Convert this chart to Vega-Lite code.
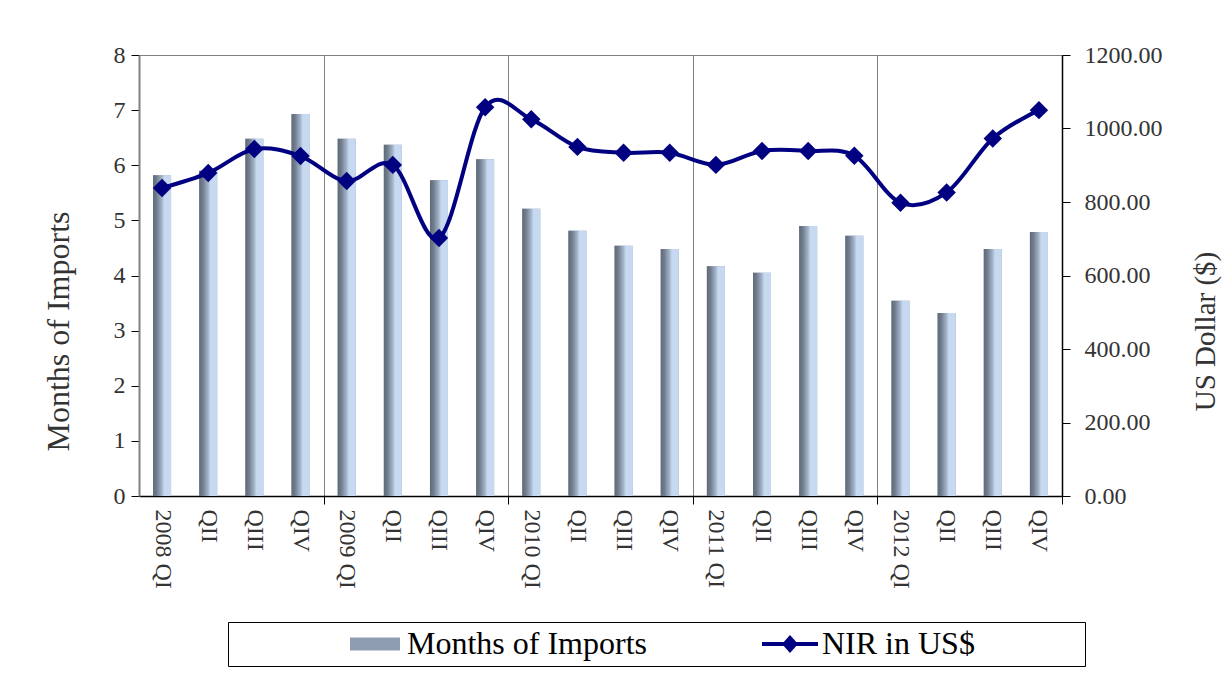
{
  "$schema": "https://vega.github.io/schema/vega-lite/v6.json",
  "autosize": {"type": "none"},
  "width": 923,
  "height": 441,
  "padding": {"left": 139, "top": 55, "right": 165, "bottom": 201},
  "background": "white",
  "config": {
    "font": "Liberation Serif",
    "view": {"stroke": "#808080", "strokeWidth": 1},
    "axis": {"labelFont": "Liberation Serif", "titleFont": "Liberation Serif", "titleFontWeight": "normal", "labelColor": "#333333", "titleColor": "#333333"},
    "legend": {"labelFont": "Liberation Serif", "titleFont": "Liberation Serif"}
  },
  "data": {
    "values": [
      {"q": "2008 QI", "months": 5.82, "nir": 838},
      {"q": "2008 QII", "months": 5.9, "nir": 879},
      {"q": "2008 QIII", "months": 6.48, "nir": 944},
      {"q": "2008 QIV", "months": 6.93, "nir": 925},
      {"q": "2009 QI", "months": 6.48, "nir": 857},
      {"q": "2009 QII", "months": 6.37, "nir": 901},
      {"q": "2009 QIII", "months": 5.73, "nir": 702},
      {"q": "2009 QIV", "months": 6.11, "nir": 1058},
      {"q": "2010 QI", "months": 5.21, "nir": 1025},
      {"q": "2010 QII", "months": 4.81, "nir": 950},
      {"q": "2010 QIII", "months": 4.54, "nir": 934},
      {"q": "2010 QIV", "months": 4.48, "nir": 934},
      {"q": "2011 QI", "months": 4.17, "nir": 901},
      {"q": "2011 QII", "months": 4.05, "nir": 939},
      {"q": "2011 QIII", "months": 4.9, "nir": 939},
      {"q": "2011 QIV", "months": 4.72, "nir": 926},
      {"q": "2012 QI", "months": 3.54, "nir": 798},
      {"q": "2012 QII", "months": 3.32, "nir": 826},
      {"q": "2012 QIII", "months": 4.48, "nir": 973},
      {"q": "2012 QIV", "months": 4.79, "nir": 1050}
    ]
  },
  "encoding": {
    "x": {
      "field": "q",
      "type": "nominal",
      "sort": null,
      "scale": {"paddingInner": 0, "paddingOuter": 0},
      "axis": {
        "title": null,
        "labelAngle": 90,
        "labelAlign": "left",
        "labelBaseline": "middle",
        "labelFontSize": 24,
        "labelPadding": 5,
        "labelExpr": "length(datum.label) == 7 ? datum.label : slice(datum.label, 5)",
        "tickBand": "extent",
        "tickSize": 8,
        "tickColor": "black",
        "tickOpacity": {"condition": {"test": "slice('' + datum.value, 5) == 'QIV'", "value": 1}, "value": 0},
        "grid": true,
        "gridColor": "#808080",
        "gridWidth": 1,
        "gridOpacity": {"condition": {"test": "slice('' + datum.value, 5) == 'QIV'", "value": 1}, "value": 0},
        "domainColor": "black",
        "domainWidth": 1.5
      }
    }
  },
  "layer": [
    {
      "encoding": {
        "y": {
          "field": "months",
          "type": "quantitative",
          "scale": {"domain": [0, 8], "nice": false},
          "axis": {
            "title": "Months of Imports",
            "titleFontSize": 32,
            "titlePadding": 38,
            "titleY": 276,
            "values": [0, 1, 2, 3, 4, 5, 6, 7, 8],
            "labelFontSize": 24,
            "labelPadding": 6,
            "tickSize": 8,
            "tickColor": "black",
            "domainColor": "#808080",
            "domainWidth": 2,
            "grid": false
          }
        }
      },
      "layer": [
        {
          "mark": {"type": "bar", "width": {"band": 0.39}},
          "encoding": {
            "color": {
              "datum": "Months of Imports",
              "type": "nominal",
              "scale": {"domain": ["Months of Imports", "NIR in US$"], "range": ["#8e9db2", "#000080"]},
              "legend": {
                "orient": "none",
                "legendX": 89,
                "legendY": 567,
                "direction": "horizontal",
                "title": "\u200b\u00a0\u00a0\u00a0\u00a0\u00a0\u00a0\u00a0\u00a0\u00a0\u00a0\u00a0\u00a0\u00a0\u00a0\u200b",
                "titleOrient": "left",
                "titleFontSize": 32,
                "titlePadding": 13,
                "padding": 6,
                "strokeColor": "black",
                "fillColor": "white",
                "labelFontSize": 32,
                "labelColor": "black",
                "labelLimit": 0,
                "labelOffset": 16,
                "columnPadding": 114,
                "symbolSize": 900,
                "labelExpr": "datum.label == 'NIR in US$' ? datum.label + '\u00a0\u00a0\u00a0\u00a0\u00a0\u00a0\u00a0\u00a0\u00a0\u00a0\u00a0\u00a0\u00a0\u200b' : datum.label",
                "encoding": {
                  "symbols": {
                    "shape": {"condition": {"test": "datum.value === 'Months of Imports'", "value": "M-1.667,-0.433L1.667,-0.433L1.667,0.433L-1.667,0.433Z"}, "value": "M-1.867,-0.133L1.867,-0.133L1.867,0.133L-1.867,0.133Z M0,-0.6L0.533,0L0,0.6L-0.533,0Z"},
                    "stroke": {"value": "transparent"},
                    "strokeWidth": {"value": 0},
                    "opacity": {"value": 1},
                    "fillOpacity": {"value": 1}
                  }
                }
              }
            }
          }
        },
        {
          "mark": {
            "type": "bar",
            "width": {"band": 0.39},
            "color": {"gradient": "linear", "x1": 0, "x2": 1, "y1": 0, "y2": 0, "stops": [{"offset": 0, "color": "#5f6a78"}, {"offset": 0.2, "color": "#717d8d"}, {"offset": 0.5, "color": "#a5b6cc"}, {"offset": 0.62, "color": "#c6d9f0"}, {"offset": 1, "color": "#c6d9f0"}]}
          }
        }
      ]
    },
    {
      "encoding": {
        "y": {
          "field": "nir",
          "type": "quantitative",
          "scale": {"domain": [0, 1200], "nice": false},
          "axis": {
            "orient": "right",
            "title": "US Dollar ($)",
            "titleFontSize": 29,
            "titleAngle": -90,
            "titlePadding": 58,
            "titleY": 276,
            "values": [0, 200, 400, 600, 800, 1000, 1200],
            "format": ".2f",
            "labelFontSize": 24,
            "labelPadding": 14,
            "tickSize": 8,
            "tickColor": "black",
            "domainColor": "black",
            "domainWidth": 1.5,
            "grid": false
          }
        },
        "color": {"datum": "NIR in US$", "type": "nominal"}
      },
      "layer": [
        {"mark": {"type": "line", "interpolate": "cardinal", "tension": 0, "strokeWidth": 4}},
        {"mark": {"type": "point", "shape": "diamond", "filled": true, "size": 340, "opacity": 1}}
      ]
    }
  ],
  "resolve": {"scale": {"y": "independent"}}
}
